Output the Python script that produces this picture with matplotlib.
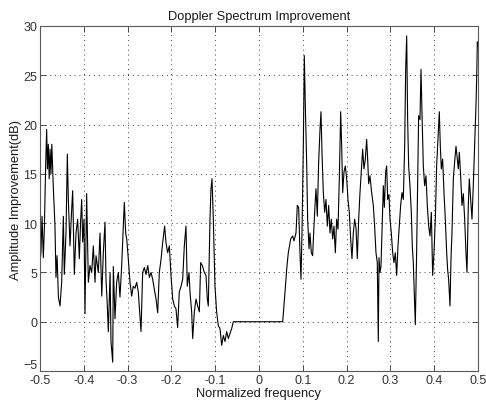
import matplotlib
matplotlib.use('Agg')
import matplotlib.pyplot as plt

# readings taken off the reference curve (normalized frequency, dB)
freq = [-0.5, -0.4977, -0.4954, -0.4924, -0.490, -0.487, -0.4848, -0.483, -0.481, -0.479,
        -0.477, -0.475, -0.473, -0.4695, -0.4658, -0.4635, -0.461, -0.458, -0.4543, -0.4505,
        -0.4467, -0.4445, -0.4406, -0.4376, -0.4353, -0.4315, -0.4277, -0.4254, -0.4216, -0.4178,
        -0.414, -0.4102, -0.4071, -0.4048, -0.4025, -0.3995, -0.3973, -0.3935, -0.3896, -0.3858,
        -0.382, -0.3782, -0.3744, -0.3721, -0.3668, -0.363, -0.359, -0.3554, -0.3516, -0.3493,
        -0.3463, -0.344, -0.340, -0.3379, -0.334, -0.3326, -0.3288, -0.325, -0.3212, -0.3174,
        -0.3136, -0.3075, -0.3044, -0.302, -0.2984, -0.2945, -0.2907, -0.287, -0.2831, -0.2793,
        -0.2755, -0.2694, -0.2656, -0.2618, -0.258, -0.254, -0.2503, -0.2465, -0.2427, -0.239,
        -0.235, -0.2313, -0.2276, -0.2237, -0.22, -0.2154, -0.2123, -0.2085, -0.2047, -0.2009,
        -0.197, -0.1933, -0.1895, -0.1857, -0.182, -0.178, -0.1742, -0.1705, -0.1667, -0.1637,
        -0.1598, -0.1575, -0.1537, -0.1514, -0.1476, -0.1438, -0.14, -0.1362, -0.1331, -0.1294,
        -0.1248, -0.121, -0.118, -0.1157, -0.1119, -0.1096, -0.1073, -0.1043, -0.1005, -0.0967,
        -0.0929, -0.089, -0.0852, -0.0814, -0.0776, -0.0738, -0.07, -0.0662, -0.0624, -0.0586,
        0.0541, 0.0594, 0.0632, 0.0669, 0.0724, 0.0769, 0.0799, 0.0845, 0.0875, 0.0906,
        0.0936, 0.0959, 0.0982, 0.1012, 0.1035, 0.1058, 0.1088, 0.1111, 0.1142, 0.1164,
        0.1195, 0.1225, 0.1248, 0.1279, 0.1301, 0.1332, 0.1362, 0.1393, 0.1416, 0.1438,
        0.1469, 0.15, 0.153, 0.156, 0.1591, 0.1621, 0.1651, 0.1682, 0.1712, 0.1743,
        0.1773, 0.1804, 0.1834, 0.1865, 0.1888, 0.1911, 0.1941, 0.1971, 0.2002, 0.2032,
        0.2062, 0.2093, 0.2123, 0.2154, 0.2184, 0.2215, 0.2245, 0.2276, 0.2306, 0.2336,
        0.2367, 0.2397, 0.2428, 0.2458, 0.2481, 0.2504, 0.2534, 0.2572, 0.261, 0.264,
        0.2671, 0.2701, 0.2724, 0.274, 0.2763, 0.2785, 0.2816, 0.2839, 0.2862, 0.2892,
        0.2915, 0.2938, 0.2968, 0.2991, 0.3021, 0.3052, 0.3082, 0.3112, 0.3143, 0.3174,
        0.3204, 0.3234, 0.3265, 0.3295, 0.3326, 0.3349, 0.3372, 0.3394, 0.3417, 0.3447,
        0.3478, 0.35, 0.3523, 0.3546, 0.3569, 0.3599, 0.3622, 0.3645, 0.3676, 0.3699,
        0.3721, 0.3752, 0.3782, 0.3813, 0.3843, 0.3874, 0.3904, 0.3935, 0.3965, 0.3995,
        0.4026, 0.4056, 0.4087, 0.4117, 0.414, 0.4163, 0.4193, 0.4224, 0.4254, 0.4285,
        0.4307, 0.433, 0.4361, 0.4384, 0.4406, 0.4437, 0.4467, 0.4498, 0.4528, 0.4551,
        0.4574, 0.4604, 0.4635, 0.4665, 0.4696, 0.4726, 0.4749, 0.4779, 0.4802, 0.4833,
        0.4863, 0.4893, 0.4924, 0.4954, 0.497, 0.4985, 0.5]

improvement = [6.0, 7.1, 10.7, 6.5, 9.5, 16.0, 19.5, 15.5, 18.0, 14.5,
               17.5, 15.0, 18.0, 13.5, 9.7, 4.5, 6.7, 2.5, 1.6, 4.0,
               10.7, 4.8, 9.0, 17.0, 12.4, 7.7, 11.4, 13.3, 4.8, 9.0,
               10.4, 6.4, 10.4, 12.4, 8.1, 10.4, 0.8, 13.0, 4.0, 5.7,
               5.0, 7.7, 4.0, 6.7, 5.0, 9.0, 2.6, 7.0, 10.1, 4.3,
               1.6, -1.0, 5.0, -2.0, -4.1, 5.6, 0.3, 4.0, 5.0, 2.5,
               5.6, 12.1, 9.0, 8.4, 6.4, 4.0, 2.6, 3.6, 3.4, 4.0,
               3.0, -1.0, 5.0, 5.5, 4.8, 5.7, 4.5, 5.0, 4.3, 3.3,
               2.3, 0.9, 5.0, 6.3, 8.0, 9.7, 8.0, 7.0, 7.7, 4.7,
               2.3, 1.6, 1.3, -0.6, 3.0, 3.6, 4.3, 7.7, 9.7, 3.6,
               5.0, 3.0, 1.0, -1.7, 1.0, 2.3, 1.6, 1.0, 6.0, 5.7,
               5.0, 4.7, 2.3, 1.6, 10.4, 13.5, 14.5, 10.4, 3.6, 1.0,
               -0.4, -0.7, -2.4, -1.4, -2.0, -1.0, -1.7, -1.2, -0.7, 0.0,
               0.0, 3.0, 5.3, 7.0, 8.4, 8.7, 8.2, 9.0, 11.8, 11.6,
               7.0, 4.3, 9.0, 17.8, 27.0, 21.9, 16.2, 10.4, 7.4, 9.0,
               7.0, 6.7, 9.0, 11.8, 13.5, 10.7, 16.2, 19.5, 21.3, 17.2,
               13.1, 11.1, 12.4, 9.7, 11.8, 9.0, 10.4, 8.4, 9.7, 7.0,
               10.4, 9.4, 14.5, 21.3, 17.8, 13.1, 15.2, 15.8, 14.5, 12.4,
               11.1, 8.4, 6.4, 9.0, 10.4, 9.5, 6.4, 10.4, 13.1, 15.2,
               17.5, 15.5, 16.5, 18.5, 16.5, 14.0, 14.8, 13.1, 11.8, 9.7,
               7.0, 6.0, -2.0, 6.5, 5.0, 5.6, 10.4, 13.8, 11.6, 15.2,
               15.8, 12.4, 12.9, 10.4, 9.0, 7.0, 6.0, 7.0, 4.7, 7.7,
               9.7, 11.8, 13.1, 12.4, 17.8, 25.6, 29.0, 20.5, 15.8, 13.8,
               11.1, 7.7, 6.0, 3.0, -0.3, 7.0, 13.8, 20.9, 20.5, 25.6,
               21.3, 15.8, 13.8, 14.8, 11.8, 9.7, 8.7, 11.1, 4.7, 7.0,
               10.4, 15.8, 18.5, 21.3, 17.8, 15.5, 16.5, 13.1, 10.4, 7.0,
               5.3, 4.3, 1.6, 6.4, 9.0, 14.5, 16.2, 17.8, 16.5, 15.5,
               17.2, 14.8, 11.8, 13.0, 10.4, 7.0, 5.0, 11.8, 14.5, 12.4,
               10.4, 13.8, 17.8, 21.9, 24.6, 28.4, 28.0]

x_ticks = [-0.5, -0.4, -0.3, -0.2, -0.1, 0, 0.1, 0.2, 0.3, 0.4, 0.5]
x_tick_labels = ['-0.5', '-0.4', '-0.3', '-0.2', '-0.1', '0', '0.1', '0.2', '0.3', '0.4', '0.5']
y_ticks = [-5, 0, 5, 10, 15, 20, 25, 30]

plt.rcParams['font.family'] = ['Liberation Sans', 'DejaVu Sans']

fig = plt.figure(figsize=(4.86, 4.06), dpi=100)
ax = fig.add_axes([0.0823, 0.0837, 0.9012, 0.8498])

ax.plot(freq, improvement, color='k', linewidth=0.8)

ax.set_xlim(-0.5, 0.5)
ax.set_ylim(-5, 30)
ax.set_xticks(x_ticks)
ax.set_xticklabels(x_tick_labels)
ax.set_yticks(y_ticks)
ax.grid(True, linestyle=(0, (1, 4)), color='0.25', linewidth=0.7)
ax.tick_params(direction='in', top=True, right=True, length=4, width=0.6,
               labelsize=9, pad=2, colors='0.2')
# lift the -5 label a touch so it clears the -0.5 label below it
ax.get_yticklabels()[0].set_verticalalignment('bottom')
for spine in ax.spines.values():
    spine.set_color('0.35')
    spine.set_linewidth(0.8)

ax.set_title('Doppler Spectrum Improvement', fontsize=9.3, color='0.1', pad=5)
ax.set_xlabel('Normalized frequency', fontsize=9.3, color='0.1', labelpad=1)
ax.set_ylabel('Amplitude Improvement(dB)', fontsize=9.3, color='0.1', labelpad=1)

fig.savefig('out.png', dpi=100)
